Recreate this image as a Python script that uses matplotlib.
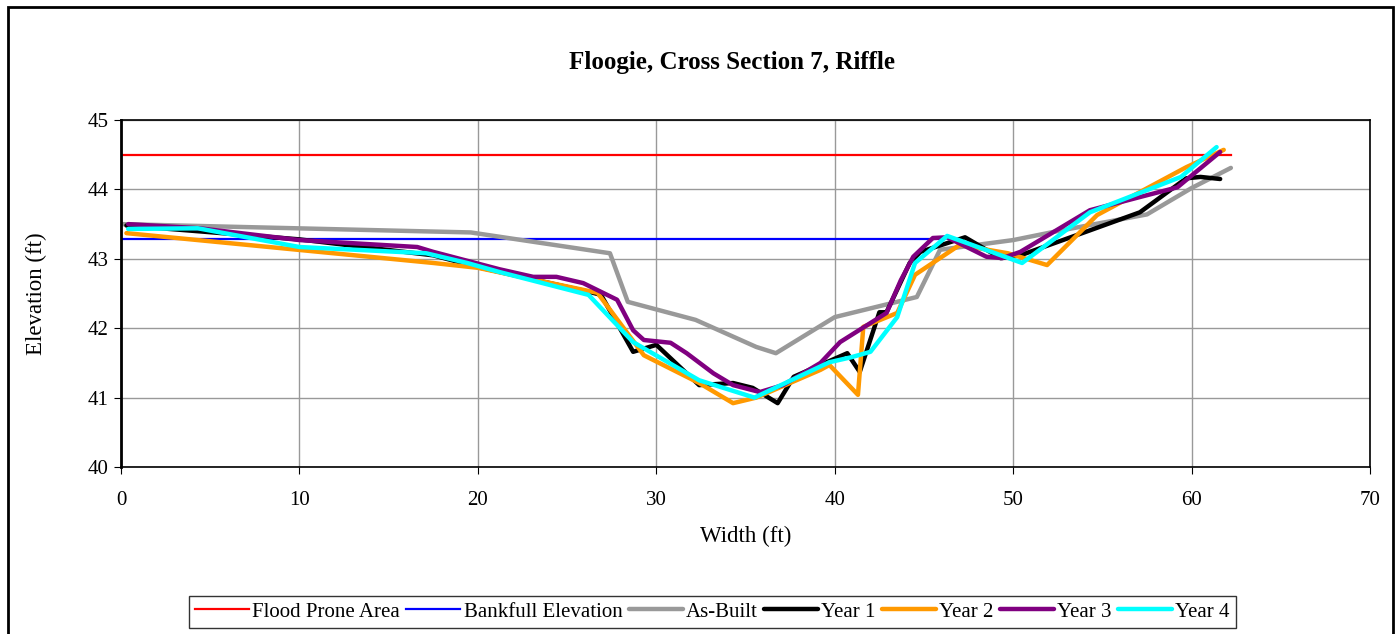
import matplotlib
matplotlib.use("Agg")
import matplotlib.pyplot as plt
from matplotlib.patches import Rectangle

# 数据 (ft)
flood_x = [0.0, 62.2]
flood_y = [44.50, 44.50]
bank_x = [0.0, 46.0]
bank_y = [43.29, 43.29]

asbuilt_x = [0.0, 19.6, 27.4, 28.4, 32.2, 35.6, 36.7, 40.0, 44.6, 45.9, 50.0, 52.5, 57.5, 60.0, 62.2]
asbuilt_y = [43.50, 43.38, 43.08, 42.38, 42.12, 41.73, 41.64, 42.16, 42.45, 43.13, 43.27, 43.40, 43.64, 44.02, 44.31]

y1_x = [0.3, 10.0, 17.5, 20.0, 26.3, 26.9, 28.7, 30.0, 32.4, 34.3, 35.4, 36.8, 37.7, 40.7, 41.4, 42.5, 42.9, 44.2, 44.8, 47.3, 49.3, 50.4, 54.3, 57.1, 59.7, 60.5, 61.6]
y1_y = [43.48, 43.28, 43.05, 42.88, 42.52, 42.48, 41.66, 41.76, 41.18, 41.21, 41.14, 40.92, 41.30, 41.64, 41.37, 42.23, 42.23, 42.94, 43.10, 43.31, 43.01, 43.05, 43.41, 43.67, 44.16, 44.18, 44.15]

y2_x = [0.3, 17.5, 20.0, 26.7, 29.3, 32.4, 34.3, 35.6, 39.2, 39.7, 41.3, 41.6, 43.5, 44.5, 47.0, 49.7, 51.9, 54.7, 59.7, 61.8]
y2_y = [43.37, 42.94, 42.87, 42.51, 41.61, 41.21, 40.92, 41.00, 41.40, 41.47, 41.04, 42.02, 42.22, 42.77, 43.20, 43.08, 42.91, 43.63, 44.32, 44.57]

y3_x = [0.4, 4.4, 10.0, 16.6, 17.5, 21.2, 23.1, 24.4, 25.9, 27.8, 28.7, 29.3, 30.8, 31.7, 33.2, 34.3, 35.8, 37.1, 39.2, 40.3, 42.9, 43.7, 44.4, 45.5, 46.3, 48.5, 49.4, 50.4, 54.3, 57.1, 59.2, 61.6]
y3_y = [43.50, 43.44, 43.27, 43.17, 43.10, 42.85, 42.74, 42.74, 42.65, 42.41, 41.97, 41.83, 41.79, 41.64, 41.35, 41.18, 41.08, 41.18, 41.50, 41.80, 42.22, 42.69, 43.03, 43.30, 43.31, 43.03, 43.01, 43.10, 43.70, 43.89, 44.03, 44.54]

y4_x = [0.4, 4.3, 10.0, 17.1, 19.4, 21.2, 26.2, 28.7, 32.4, 35.5, 39.7, 40.9, 42.0, 43.5, 44.5, 46.3, 50.5, 54.3, 59.4, 61.4]
y4_y = [43.43, 43.44, 43.17, 43.08, 42.94, 42.81, 42.48, 41.80, 41.25, 41.00, 41.51, 41.58, 41.66, 42.16, 42.94, 43.33, 42.94, 43.67, 44.18, 44.61]

plt.rcParams["font.family"] = ["Liberation Serif", "DejaVu Serif"]

fig = plt.figure(figsize=(13.98, 6.34), dpi=100)
ax = fig.add_axes([0.0866, 0.2634, 0.8934, 0.5473])

kw = dict(solid_joinstyle="round", solid_capstyle="round")
ax.plot(flood_x, flood_y, color="#ff0000", lw=1.6, label="Flood Prone Area")
ax.plot(bank_x, bank_y, color="#0000ff", lw=1.6, label="Bankfull Elevation")
ax.plot(asbuilt_x, asbuilt_y, color="#999999", lw=3.2, label="As-Built", **kw)
ax.plot(y1_x, y1_y, color="black", lw=3.2, label="Year 1", **kw)
ax.plot(y2_x, y2_y, color="#ff9900", lw=3.2, label="Year 2", **kw)
ax.plot(y3_x, y3_y, color="#800080", lw=3.2, label="Year 3", **kw)
ax.plot(y4_x, y4_y, color="#00ffff", lw=3.2, label="Year 4", **kw)

ax.set_xlim(0, 70)
ax.set_ylim(40, 45)
ax.set_xticks(range(0, 71, 10))
ax.set_yticks(range(40, 46))
ax.grid(True, color="#999999", lw=1)
ax.set_axisbelow(True)
for s in ax.spines.values():
    s.set_linewidth(1.2)
ax.spines["left"].set_linewidth(2)
ax.tick_params(labelsize=15, direction="out", length=5)
ax.tick_params(axis="x", pad=12)
ax.tick_params(axis="y", pad=4)
ax.set_xlabel("Width (ft)", fontsize=16.5, labelpad=12)
ax.set_ylabel("Elevation (ft)", fontsize=16.5, labelpad=29)

fig.text(0.5237, 0.902, "Floogie, Cross Section 7, Riffle", ha="center", va="center",
         fontsize=18, fontweight="bold")

leg = fig.legend(loc="center", bbox_to_anchor=(0.5095, 0.035), ncol=7, fontsize=15,
                 frameon=True, fancybox=False, handlelength=2.6, handletextpad=0.15,
                 columnspacing=0.3, borderpad=0.3)
leg.get_frame().set_edgecolor("black")
leg.get_frame().set_linewidth(1)

# 外框
fig.patches.append(Rectangle((8 / 1398, -0.1), (1393 - 8) / 1398, 1.1 - 7 / 634,
                             transform=fig.transFigure, fill=False, edgecolor="black", lw=2))

fig.savefig("out.png", dpi=100)
